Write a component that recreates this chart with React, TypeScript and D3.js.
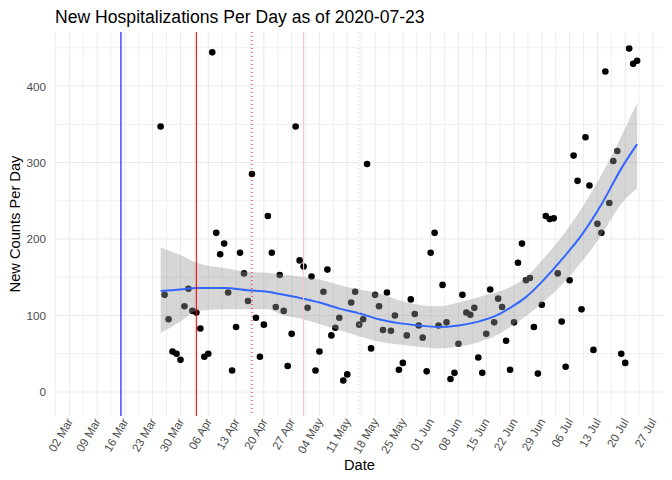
import React from "react";
import * as d3 from "d3";

const W = 672;
const H = 480;

const chartTitle = "New Hospitalizations Per Day as of 2020-07-23";
const xTitle = "Date";
const yTitle = "New Counts Per Day";

const firstDate = "2020-03-25";
const newCounts = [
  347, 127, 95, 53, 50, 42, 112, 135, 106, 104,
  83, 46, 50, 444, 208, 180, 194, 130, 28, 85,
  182, 155, 119, 285, 97, 46, 88, 230, 182, 111,
  153, 106, 34, 76, 347, 172, 164, 110, 151, 28,
  53, 131, 160, 74, 84, 97, 15, 23, 117, 131,
  88, 95, 298, 57, 127, 112, 81, 130, 80, 100,
  29, 38, 74, 121, 102, 87, 71, 27, 182, 208,
  87, 140, 91, 17, 25, 63, 127, 104, 101, 110,
  45, 25, 76, 134, 91, 122, 111, 67, 29, 91,
  169, 194, 146, 149, 85, 24, 114, 230, 226, 227,
  155, 92, 33, 146, 309, 276, 108, 333, 270, 55,
  220, 208, 419, 247, 302, 315, 50, 38, 449, 429, 433,
];

const smoothDates = [
  "2020-03-25", "2020-03-30", "2020-04-03", "2020-04-10", "2020-04-16", "2020-04-21",
  "2020-04-24", "2020-04-29", "2020-05-04", "2020-05-09", "2020-05-14", "2020-05-19",
  "2020-05-24", "2020-05-29", "2020-06-03", "2020-06-08", "2020-06-13", "2020-06-18",
  "2020-06-21", "2020-06-25", "2020-06-29", "2020-07-04", "2020-07-09", "2020-07-14",
  "2020-07-19", "2020-07-23",
];
const smoothFit = [132, 134, 136, 136, 133, 131, 128, 123, 117, 109, 103, 95, 90, 87, 85, 87, 92, 101, 110, 124, 144, 173, 205, 245, 292, 324];
const smoothLow = [77, 92, 106, 108, 108, 108, 102, 96, 89, 81, 73, 66, 62, 59, 57, 59, 65, 75, 85, 99, 116, 140, 170, 205, 246, 266];
const smoothHigh = [189, 179, 169, 162, 157, 156, 154, 151, 147, 140, 134, 129, 120, 114, 112, 117, 124, 131, 137, 150, 172, 203, 240, 284, 334, 378];

const yTicks = [0, 100, 200, 300, 400];
const yMinorTicks = [50, 150, 250, 350, 450];
const xTickFirst = "2020-03-02";
const xTickLast = "2020-07-27";

const eventDates = ["2020-03-15", "2020-04-03", "2020-04-17", "2020-04-30", "2020-05-14"];
const eventColors = ["blue", "red", "red", "pink", "pink"];
const eventDashed = [false, false, true, false, true];

const parse = d3.utcParse("%Y-%m-%d");
const fmt = d3.utcFormat("%d %b");

export default function App() {
  const left = 55, right = 664, top = 32, bottom = 416;

  const x = d3.scaleUtc()
    .domain([parse(xTickFirst)!, parse(xTickLast)!])
    .range([69.3, 653]);
  const y = d3.scaleLinear().domain([-31.4, 470.6]).range([bottom, top]);

  const start = parse(firstDate)!;
  const dates = newCounts.map((_, i) => d3.utcDay.offset(start, i));

  const majorX = d3.utcMonday.every(1)!.range(parse(xTickFirst)!, d3.utcDay.offset(parse(xTickLast)!, 1));
  const minorX: Date[] = [];
  for (let i = -1; i < majorX.length; i++) {
    const base = i < 0 ? d3.utcDay.offset(majorX[0], -7) : majorX[i];
    const m = new Date(base.getTime() + 3.5 * 86400000);
    if (x(m) >= left && x(m) <= right) minorX.push(m);
  }

  const sm = smoothDates.map((d, i) => ({ d: parse(d)!, f: smoothFit[i], lo: smoothLow[i], hi: smoothHigh[i] }));
  const area = d3.area<any>().x((p) => x(p.d)).y0((p) => y(p.lo)).y1((p) => y(p.hi)).curve(d3.curveMonotoneX);
  const line = d3.line<any>().x((p) => x(p.d)).y((p) => y(p.f)).curve(d3.curveMonotoneX);

  const font = "'Liberation Sans', Arial, sans-serif";

  return (
    <svg width={W} height={H} style={{ position: "absolute", left: 0, top: 0, background: "#fff" }} fontFamily={font}>
      <rect x={0} y={0} width={W} height={H} fill="#fff" />
      {yMinorTicks.map((v) => (
        <line key={"ym" + v} x1={left} x2={right} y1={y(v)} y2={y(v)} stroke="#ebebeb" strokeWidth={0.8} />
      ))}
      {minorX.map((d, i) => (
        <line key={"xm" + i} x1={x(d)} x2={x(d)} y1={top} y2={bottom} stroke="#ebebeb" strokeWidth={0.8} />
      ))}
      {yTicks.map((v) => (
        <line key={"y" + v} x1={left} x2={right} y1={y(v)} y2={y(v)} stroke="#ebebeb" strokeWidth={1.1} />
      ))}
      {majorX.map((d, i) => (
        <line key={"x" + i} x1={x(d)} x2={x(d)} y1={top} y2={bottom} stroke="#ebebeb" strokeWidth={1.1} />
      ))}

      {newCounts.map((v, i) => (
        <circle key={"p" + i} cx={x(dates[i])} cy={y(v)} r={3.3} fill="#000" />
      ))}

      <path d={area(sm)!} fill="#999999" fillOpacity={0.4} />
      <path d={line(sm)!} fill="none" stroke="#3366FF" strokeWidth={2} />

      {eventDates.map((d, i) => (
        <line key={"e" + i} x1={x(parse(d)!)} x2={x(parse(d)!)} y1={top} y2={bottom}
          stroke={eventColors[i]} strokeWidth={1.07} strokeDasharray={eventDashed[i] ? "1 3" : undefined} />
      ))}

      {yTicks.map((v) => (
        <text key={"yl" + v} x={46} y={y(v)} textAnchor="end" dominantBaseline="central" fontSize={11.7} fill="#4d4d4d">{v}</text>
      ))}
      {majorX.map((d, i) => (
        <text key={"xl" + i} transform={`translate(${x(d)},${419}) rotate(-60)`} textAnchor="end" dominantBaseline="central" fontSize={11.7} fill="#4d4d4d">{fmt(d)}</text>
      ))}

      <text x={left} y={23} fontSize={17.6} fill="#000">{chartTitle}</text>
      <text x={(left + right) / 2} y={470} textAnchor="middle" fontSize={14.67} fill="#000">{xTitle}</text>
      <text transform={`translate(${20},${(top + bottom) / 2}) rotate(-90)`} textAnchor="middle" fontSize={14.67} fill="#000">{yTitle}</text>
    </svg>
  );
}
